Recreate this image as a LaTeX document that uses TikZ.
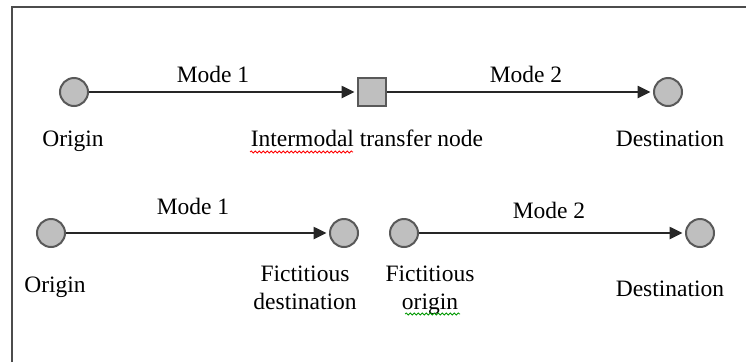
\documentclass[tikz,border=0pt]{standalone}
\usepackage{fontspec}
\setmainfont{Liberation Serif}
\usetikzlibrary{arrows.meta,decorations.pathmorphing}
\begin{document}
\begin{tikzpicture}[x=1pt,y=-1pt,
  station/.style={circle,draw=black!65,line width=2pt,fill=black!25,minimum size=28pt,inner sep=0pt},
  hub/.style={rectangle,draw=black!65,line width=2pt,fill=black!25,minimum size=28pt,inner sep=0pt},
  link/.style={draw=black!85,line width=2.5pt,-{Triangle[length=13pt,width=12pt]},shorten >=2.5pt},
  lbl/.style={anchor=base,inner sep=0pt,font=\fontsize{23.5}{28}\selectfont,align=center},
  spell/.style={decorate,decoration={snake,amplitude=1pt,segment length=4pt},line width=0.8pt}
]
\useasboundingbox (0,0) rectangle (746,362);
\fill[white] (0,0) rectangle (746,362);
% frame (partly outside the page)
\draw[black!70,line width=2.5pt] (12,362) -- (12,7) -- (746,7);

% top chain: origin -> transfer node -> destination
\node[station] (o1) at (74,92) {};
\node[hub]     (t)  at (372,92) {};
\node[station] (d1) at (668,92) {};
\draw[link] (o1) -- (t);
\draw[link] (t) -- (d1);
\node[lbl] (m1)  at (213,82)  {Mode 1};
\node[lbl] (m2)  at (526,82)  {Mode 2};
\node[lbl] (lo1) at (73,146)  {Origin};
\node[lbl] (lt)  at (367,146) {Intermodal transfer node};
\node[lbl] (ld1) at (670,146) {Destination};

% bottom chains with fictitious nodes
\node[station] (o2) at (51,233)  {};
\node[station] (fd) at (344,233) {};
\node[station] (fo) at (404,233) {};
\node[station] (d2) at (700,233) {};
\draw[link] (o2) -- (fd);
\draw[link] (fo) -- (d2);
\node[lbl] (m3)  at (193,214) {Mode 1};
\node[lbl] (m4)  at (549,218) {Mode 2};
\node[lbl] (lo2) at (55,292)  {Origin};
\node[lbl] (lfd) at (305,309) {Fictitious\\destination};
\node[lbl] (lfo) at (430,309) {Fictitious\\origin};
\node[lbl] (ld2) at (670,296) {Destination};

% spelling marks
\draw[spell,red] (250,152) -- (353,152);
\draw[spell,green!60!black] (405,314) -- (460,314);
\end{tikzpicture}
\end{document}
